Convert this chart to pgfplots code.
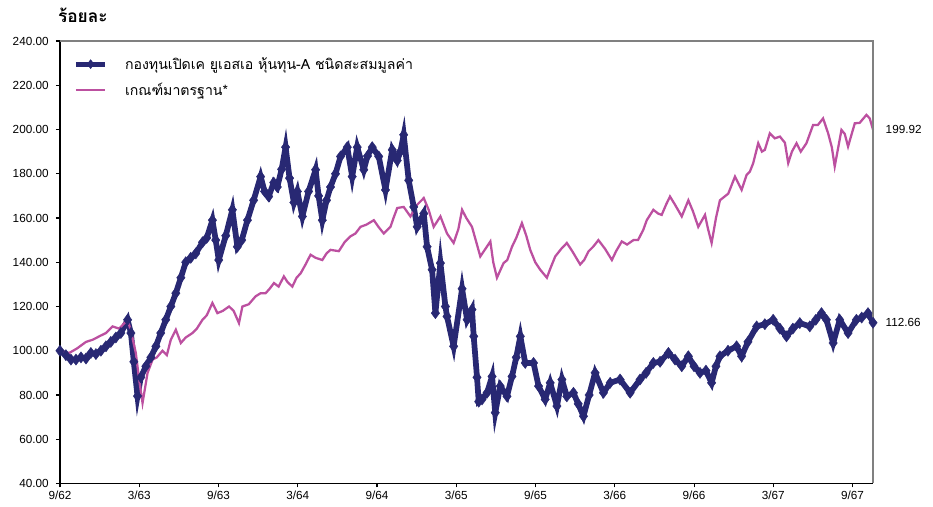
\documentclass[border=0pt]{standalone}
\usepackage{pgfplots}
\pgfplotsset{compat=1.18}
\usepackage{fontspec}
\setmainfont{Liberation Sans}
\newfontfamily\thai[Script=Thai]{Loma}
\definecolor{fundnavy}{RGB}{40,40,115}
\definecolor{benchpink}{RGB}{188,80,160}
\pgfplotsset{
  fundleg/.style={legend image code/.code={\draw[##1,line width=3.6pt,mark=none] (0pt,0pt) -- (22pt,0pt); \draw[mark repeat=2,mark phase=2,##1,mark size=3.4pt,draw=none] plot coordinates {(0pt,0pt) (11pt,0pt) (22pt,0pt)};}},
  benchleg/.style={legend image code/.code={\draw[##1] (0pt,0pt) -- (22pt,0pt);}},
}
\begin{document}
\begin{tikzpicture}
\begin{axis}[
  name=ax,
  scale only axis,
  width=610pt, height=332pt,
  xmin=0, xmax=61.55, ymin=40, ymax=240,
  clip=false,
  axis x line*=bottom, axis y line*=left,
  axis line style={black, line width=0.9pt},
  tick style={black, line width=0.8pt},
  major tick length=3pt,
  tick align=outside,
  xtick={0,6,12,18,24,30,36,42,48,54,60},
  xticklabels={9/62,3/63,9/63,3/64,9/64,3/65,9/65,3/66,9/66,3/67,9/67},
  ytick={40,60,...,240},
  /pgf/number format/assume math mode=true,
  yticklabel style={/pgf/number format/fixed, /pgf/number format/fixed zerofill, /pgf/number format/precision=2, xshift=-2pt},
  ticklabel style={font=\fontsize{8.8}{10}\selectfont},
  xticklabel style={yshift=1pt},
  legend style={at={(0,1)}, anchor=north west, xshift=7pt, yshift=-8pt, draw=none, fill=none,
    font=\fontsize{10.6}{12}\selectfont\thai, row sep=5pt, cells={anchor=west},
    /tikz/every odd column/.append style={column sep=11pt}},
  legend cell align=left,
]
\addplot[fundnavy, line width=4.3pt, mark=diamond*, mark size=4.2pt,
  mark options={solid, line width=0.3pt}, fundleg]
coordinates {
(0,100)(0.45,98)(0.83,96)(1.21,96)(1.59,97)(1.97,96.5)(2.34,99)(2.72,98.5)(3.10,100)(3.48,102)
(3.85,104)(4.23,106)(4.61,108)(5.12,114)(5.37,108)(5.59,95)(5.87,79.5)(6.12,88)(6.50,93)(6.88,97)
(7.26,102)(7.63,108)(8.01,114)(8.39,120)(8.77,126)(9.15,133)(9.52,140)(9.90,142)(10.28,144)(10.79,149)
(11.11,151)(11.54,159)(11.79,150)(12.02,141)(12.55,152)(13.05,163.7)(13.43,147)(13.76,150)(14.19,159)(14.66,168)
(15.19,178.7)(15.49,172)(15.80,169.7)(16.18,176)(16.45,174)(16.78,182)(17.08,192)(17.38,178)(17.71,167)(17.97,172)
(18.35,160.7)(18.82,172)(19.35,181.8)(19.58,170)(19.86,159)(20.18,168)(20.48,174)(20.86,180)(21.24,187.8)(21.75,192)
(22.12,178.7)(22.50,192)(23.00,181.8)(23.28,188)(23.64,192)(24.13,187.8)(24.64,172.7)(25.15,190.8)(25.53,186)(25.77,190)
(26.02,197.6)(26.40,177)(26.78,165)(27.04,156)(27.54,162)(27.79,147)(28.17,136.6)(28.42,117)(28.80,139.6)(29.18,120)
(29.30,115.5)(29.80,102)(30.44,128)(30.82,114)(31.19,118.6)(31.32,106.5)(31.57,88)(31.70,77)(31.95,78)(32.33,81)
(32.71,88.4)(32.95,72)(33.33,84)(33.84,79.4)(34.22,88.4)(34.54,97)(34.85,106.5)(35.22,94.5)(35.85,94.5)(36.23,84)
(36.73,78)(37.11,85.5)(37.62,75)(38.00,87)(38.37,79.4)(38.87,81)(39.23,76)(39.63,70.4)(40.06,80)(40.51,90)
(41.14,81)(41.65,85.5)(42.40,87)(43.16,81)(43.91,87)(44.37,90)(44.92,94.5)(45.43,95)(46.06,99)(46.56,96)
(47.07,93)(47.57,97.5)(48.00,93)(48.45,90)(48.90,91)(49.33,85.5)(49.66,93)(49.96,97.5)(50.57,100)(51.22,102)
(51.60,97.5)(52.08,104)(52.74,111)(53.36,112)(53.99,114)(54.50,110)(55.00,106.5)(55.48,110)(56.01,112.5)(56.76,111)
(57.22,114)(57.65,117)(58.02,114)(58.53,103.5)(59.03,114)(59.66,108)(60.29,114)(60.69,115)(61.17,117)(61.55,112.66)
};
\addlegendentry{กองทุนเปิดเค ยูเอสเอ หุ้นทุน-A ชนิดสะสมมูลค่า}
\addplot[benchpink, line width=1.7pt, no marks, benchleg]
coordinates {
(0,100)(0.70,99)(1.28,101)(1.97,104)(2.49,105)(2.97,106.5)(3.48,108)(3.98,111)(4.48,110)(5.12,114)
(5.37,109)(5.74,99)(5.97,88)(6.25,76.4)(6.63,90)(7.01,96)(7.33,97)(7.76,100)(8.09,98)(8.39,105)
(8.77,109.5)(9.15,103.5)(9.52,106)(10.03,108)(10.36,110)(10.79,114)(11.11,116)(11.54,121.6)(11.92,117)(12.32,118)
(12.80,120)(13.15,118)(13.55,112.5)(13.81,120)(14.29,121)(14.81,124.6)(15.19,126)(15.57,126)(15.87,128)(16.20,130.6)
(16.55,129)(16.95,133.6)(17.23,131)(17.59,129)(17.91,133)(18.22,135)(18.59,139)(18.97,143.4)(19.35,142)(19.86,141)
(20.18,144)(20.48,145.6)(21.11,145)(21.54,149)(21.99,151.7)(22.37,153)(22.75,156)(23.20,157)(23.76,159)(24.11,156)
(24.51,153)(25.02,156)(25.25,160)(25.53,164.5)(26.02,165)(26.53,160.7)(27.04,166)(27.54,169)(27.91,163.7)(28.29,156)
(28.80,160.7)(29.30,153)(29.80,148.7)(30.16,155)(30.44,163.7)(30.76,160)(31.19,156)(31.52,149)(31.82,142.6)(32.20,146)
(32.58,149.4)(32.80,140)(33.08,133)(33.58,139.6)(33.86,141)(34.22,147)(34.54,151)(34.97,157.7)(35.30,152)(35.60,145.6)
(35.98,140)(36.36,136.6)(36.86,133)(37.11,137)(37.49,142.6)(37.94,146)(38.37,148.7)(38.78,145)(39.38,139)(39.68,141)
(40.01,144.9)(40.36,147)(40.76,150)(41.27,146)(41.78,141)(42.10,145)(42.53,149.4)(42.93,148)(43.41,150)(43.76,150)
(44.16,154.7)(44.42,159)(44.92,163.7)(45.28,162)(45.55,161.4)(45.88,166)(46.18,169.7)(46.56,166)(47.07,160.7)(47.57,168)
(47.92,163)(48.32,156)(48.83,161.4)(49.06,155)(49.33,148.7)(49.66,160)(49.96,168)(50.59,171)(51.10,178.7)(51.60,172.7)
(51.98,179.5)(52.23,181)(52.48,184.8)(52.86,193.8)(53.14,190)(53.36,190.8)(53.74,198.3)(54.12,196)(54.50,196.8)(54.88,194)
(55.13,184.8)(55.41,190)(55.76,193.8)(56.08,190)(56.51,193.8)(57.01,202)(57.37,202)(57.77,205)(58.15,198.3)(58.43,192)
(58.65,183.3)(59.16,199.8)(59.41,198)(59.66,192.3)(60.17,202.8)(60.54,203)(61.05,206.6)(61.30,205)(61.55,199.92)
};
\addlegendentry{เกณฑ์มาตรฐาน*}
\draw[gray, line width=0.9pt] (rel axis cs:0,1) -- (rel axis cs:1,1) -- (rel axis cs:1,0);
\node[anchor=west, font=\fontsize{8.8}{10}\selectfont, xshift=6pt] at (axis cs:61.55,199.92) {199.92};
\node[anchor=west, font=\fontsize{8.8}{10}\selectfont, xshift=6pt] at (axis cs:61.55,112.66) {112.66};
\end{axis}
\node[anchor=west, font=\fontsize{13}{15}\selectfont\thai\bfseries] at ([xshift=-5pt,yshift=19.5pt]ax.north west) {ร้อยละ};
\pgfresetboundingbox
\path ([xshift=-45pt,yshift=-17.25pt]ax.south west) rectangle ([xshift=45pt,yshift=30.75pt]ax.north east);
\end{tikzpicture}
\end{document}
